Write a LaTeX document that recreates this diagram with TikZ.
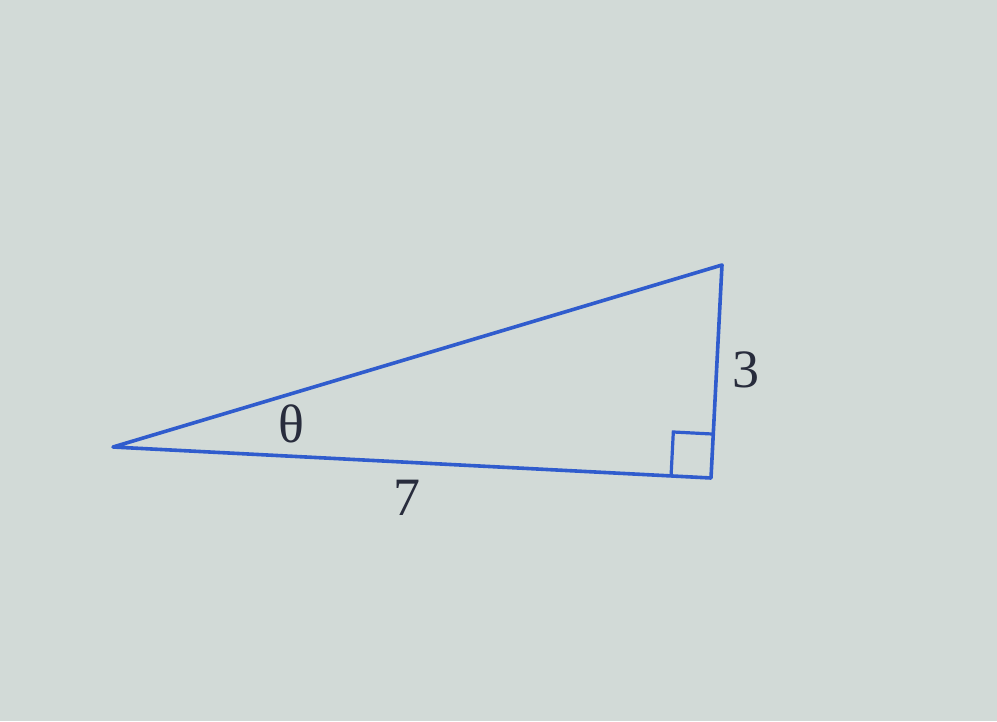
\documentclass[tikz,border=0pt]{standalone}
\usepackage{fontspec}
\setmainfont{Liberation Serif}
\usetikzlibrary{calc}

\begin{document}
\begin{tikzpicture}[x=1pt,y=1pt,yscale=-1,xscale=1]
	%Shape: Screen background
	\fill [color={rgb, 255:red, 210; green, 218; blue, 215 }] (0,0) rectangle (997,721) ;
	\useasboundingbox (0,0) rectangle (997,721) ;
	
	%Shape: Triangle corners
	\coordinate (A) at (113,447) ;
	\coordinate (B) at (711,478) ;
	\coordinate (C) at (722,265) ;
	%Shape: Triangle
	\draw [color={rgb, 255:red, 48; green, 92; blue, 205 }  ,line width=3.6pt ,line join=round] (A) -- (B) -- (C) -- cycle ;
	%Shape: Right angle mark
	\coordinate (P) at ($(B)!40pt!(A)$) ;
	\coordinate (Q) at ($(B)!44pt!(C)$) ;
	\draw [color={rgb, 255:red, 48; green, 92; blue, 205 }  ,line width=3.2pt ] (P) -- ($(P)+(Q)-(B)$) -- (Q) ;
	
	% Text Node
	\node (theta) at (291,424) [inner sep=0.75pt ,color={rgb, 255:red, 40; green, 44; blue, 60 }] {\fontsize{54}{60}\selectfont θ};
	% Text Node
	\node (three) at (746,370) [inner sep=0.75pt ,color={rgb, 255:red, 40; green, 44; blue, 60 }] {\fontsize{54}{60}\selectfont 3};
	% Text Node
	\node (seven) at (407,498) [inner sep=0.75pt ,color={rgb, 255:red, 40; green, 44; blue, 60 }] {\fontsize{54}{60}\selectfont 7};
\end{tikzpicture}
\end{document}
